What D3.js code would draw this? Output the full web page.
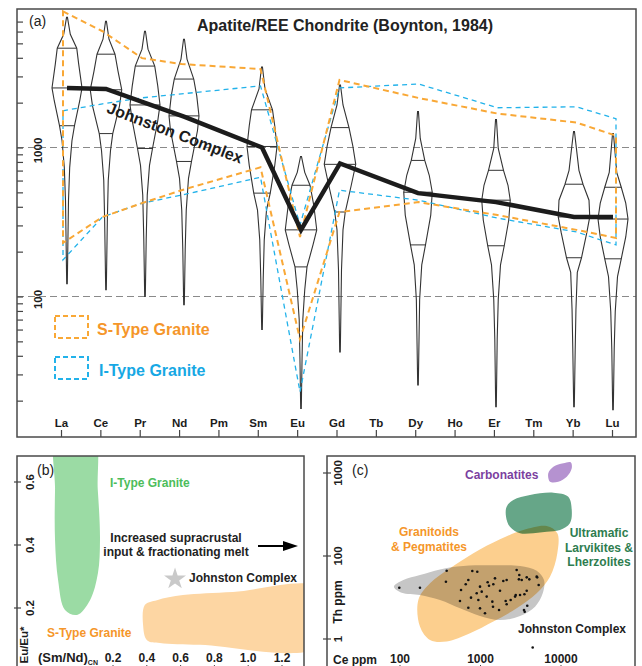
<!DOCTYPE html>
<html><head><meta charset="utf-8">
<script src="https://cdn.jsdelivr.net/npm/d3@7"></script>
<style>body{margin:0;background:#fff}svg{display:block}text{font-family:"Liberation Sans",Arial,sans-serif}</style>
</head><body>
<script>
// ---------------- DATA ----------------
// Panel (a): Apatite REE chondrite-normalised
const elements=["La","Ce","Pr","Nd","Pm","Sm","Eu","Gd","Tb","Dy","Ho","Er","Tm","Yb","Lu"];
const dataElements=["La","Ce","Pr","Nd","Sm","Eu","Gd","Dy","Er","Yb","Lu"];
const johnstonMedian=[2510,2470,1995,1610,1000,280,782,494,430,342,342];
const sTypeMax=[8190,6030,3980,3630,3360,251,2840,2150,1690,1470,1200];
const sTypeMin=[229,342,423,517,736,51.6,369,430,352,280,247];
const iTypeMax=[1765,1964,2154,2290,2590,302,2510,2670,1848,1875,1560];
const iTypeMin=[176,342,423,479,631,22.9,517,443,336,271,222];
// violin outlines: [value, relative density] from max to min
const violinLa=[[7470,.03],[5750,.22],[4640,.65],[3630,.78],[2510,1.0],[2060,.85],[1400,.5],[1110,.33],[736,.18],[443,.1],[122,.02]];
const violinCe=[[7030,.03],[5330,.2],[4230,.6],[3260,.8],[2440,1.05],[1905,.9],[1240,.45],[955,.3],[603,.15],[326,.09],[111,.02]];
const violinPr=[[6030,.03],[4570,.2],[3520,.65],[2590,.85],[1930,1.0],[1510,.85],[985,.5],[759,.3],[479,.15],[240,.08],[100,.02]];
const violinNd=[[5330,.03],[3920,.2],[2880,.65],[2220,.85],[1630,1.0],[1300,.9],[806,.5],[621,.3],[380,.15],[206,.08],[88,.02]];
const violinSm=[[3470,.03],[2470,.2],[1790,.7],[1400,.85],[1016,1.0],[759,.85],[494,.55],[380,.3],[240,.15],[130,.08],[60,.02]];
const violinEu=[[871,.03],[681,.25],[558,.6],[411,.85],[280,1.05],[222,.8],[158,.4],[111,.25],[70,.12],[38,.07],[17.7,.02]];
const violinGd=[[2630,.03],[1930,.2],[1360,.6],[1031,.85],[771,1.05],[558,.75],[369,.35],[280,.2],[151,.1],[42.4,.02]];
const violinDy=[[1740,.03],[1150,.15],[819,.45],[651,.75],[501,.95],[352,.85],[222,.5],[163,.25],[95.5,.11],[25.5,.02]];
const violinEr=[[1540,.03],[985,.15],[703,.5],[558,.8],[443,.95],[326,.85],[219,.55],[163,.3],[95.5,.15],[51.7,.08],[18.2,.02]];
const violinYb=[[1280,.03],[703,.33],[567,.6],[443,1.0],[342,1.05],[267,.85],[182,.5],[145,.22],[81.9,.13],[44.3,.08],[18.2,.02]];
const violinLu=[[1240,.03],[681,.25],[541,.55],[423,.85],[331,1.0],[251,.85],[179,.55],[136,.3],[79.4,.15],[44.3,.08],[17.4,.02]];
const violinProfiles=[violinLa,violinCe,violinPr,violinNd,violinSm,violinEu,violinGd,violinDy,violinEr,violinYb,violinLu];
const violinQ3=[4640,4230,3520,2880,1790,558,1360,819,703,567,541];
const violinMedian=[2510,2440,1930,1630,1016,280,771,501,443,342,331];
const violinQ1=[1400,1240,985,806,494,158,369,222,219,182,179];
const yTicksA=[20,30,40,50,60,70,80,90,100,200,300,400,500,600,700,800,900,1000,2000,3000,4000,5000,6000,7000];
const yLabelsA=[100,1000];
const legendA=[{name:"S-Type Granite",key:"s"},{name:"I-Type Granite",key:"i"}];

// Panel (b): Eu/Eu* vs (Sm/Nd)CN
const xTicksB=[0.2,0.4,0.6,0.8,1.0,1.2];
const yTicksB=[0.2,0.4,0.6];
const iTypeFieldB=[[-0.13,0.76],[0.08,0.76],[0.11,0.575],[0.123,0.416],[0.111,0.311],[0.064,0.225],[-0.013,0.178],[-0.084,0.194],[-0.125,0.289],[-0.143,0.416],[-0.143,0.575]];
const sTypeFieldB=[[0.389,0.210],[0.460,0.225],[0.614,0.241],[0.910,0.251],[1.425,0.263],[1.425,0.079],[0.715,0.083],[0.478,0.089],[0.401,0.098],[0.378,0.146]];
const johnstonB=[0.567,0.292];

// Panel (c): Th ppm vs Ce ppm
const xTicksC=[100,1000,10000];
const yTicksC=[10,100,1000];
const yTickLabelsC=["1","100","1000"];
const johnstonFieldC=[[84,42.7],[110,51.4],[177,59],[314,69],[612,75.8],[1443,77.3],[3100,75.8],[4990,66.5],[6150,51.4],[5930,35.5],[4760,24.5],[3100,18.9],[1746,16.9],[986,18.9],[556,23.4],[314,29.5],[177,33.9],[105,36.1]];
const granitoidFieldC=[[169,29.5],[236,46.9],[418,71.1],[815,108],[1746,159],[3400,206],[6640,230],[9000,188],[9000,108],[7300,56.3],[4990,35.5],[2812,23.4],[1443,16.2],[741,11.7],[380,9.3],[236,9.7],[177,14.1]];
const ultramaficFieldC=[[2113,393],[2560,473],[4120,543],[8040,580],[12300,519],[13600,358],[12900,248],[9720,206],[6640,196],[4530,188],[3100,188],[2320,225],[2075,298]];
const carbonatiteFieldC=[[6950,991],[8040,1190],[10700,1310],[13200,1345],[13600,1140],[11800,902],[9250,785],[7300,785]];
const ceJohnston=[98,177,380,372,655,706,791,912,573,986,1035,1228,1276,1443,1514,1920,2113,2812,3034,3000,3250,3750,4040,4990,5060,5280,1746,3750,3510,3100,2690,2370,2055,2113,1403,1430,1700,762,940,1194,556,706,986,1137,3470,3540,3810,2740,897,4450];
const thJohnston=[41.5,41.5,66.5,49,45.6,51.4,65.9,64.7,38.9,42.7,37.2,48.2,43.9,45.6,53.8,50,51.4,67.8,59,52.3,51.4,55.3,52.3,56.4,55.3,44.8,38.2,38.2,34.6,33.9,32.4,29.5,28.7,26.2,28.2,24.5,22.4,31.5,29.5,32.4,28.7,23.8,23.4,20.4,22.4,21.3,25.2,33.9,35.6,7.9];

// ---------------- DRAW ----------------
const W=642,H=666;
const svg=d3.select("body").append("svg").attr("width",W).attr("height",H);
const defs=svg.append("defs");
const FRAME="#4a4a4a", INK="#1c1c1c";
const ORANGE="#F9A836", ORANGE_T="#F5962A", BLUE="#22B2EA", BLUE_T="#17A8E4";

// ===== Panel a =====
const A={l:17,t:9,r:636,b:437};
defs.append("clipPath").attr("id","clipA").append("rect").attr("x",A.l).attr("y",A.t).attr("width",A.r-A.l).attr("height",A.b-A.t);
const yA=d3.scaleLog().domain([10,10000]).range([445.5,-1.5]);
const xTick=d3.scalePoint().domain(elements).range([61,612]);
const xViolin=d3.scalePoint().domain(elements).range([67,613]);
const xEnv=d3.scalePoint().domain(elements).range([63,616]);
const wA=d3.scaleLinear().domain([0,1]).range([0,15]);

const gA=svg.append("g");
const gAc=gA.append("g").attr("clip-path","url(#clipA)");
// grid lines
gAc.selectAll("line.grid").data(yLabelsA).join("line")
  .attr("x1",A.l).attr("x2",A.r).attr("y1",d=>yA(d)).attr("y2",d=>yA(d))
  .attr("stroke","#8a8a8a").attr("stroke-width",1.2).attr("stroke-dasharray","7,4");
// violins
const line=d3.line();
violinProfiles.forEach((prof,i)=>{
  const cx=xViolin(dataElements[i]);
  const right=prof.map(p=>[cx+wA(p[1]),yA(p[0])]);
  const left=prof.slice().reverse().map(p=>[cx-wA(p[1]),yA(p[0])]);
  gAc.append("path").attr("d",line(right.concat(left))+"Z")
    .attr("fill","none").attr("stroke","#333").attr("stroke-width",1.1);
  const dens=d3.scaleLinear().domain(prof.map(p=>Math.log10(p[0]))).range(prof.map(p=>p[1]));
  [violinQ3[i],violinMedian[i],violinQ1[i]].forEach(q=>{
    const hw=wA(dens(Math.log10(q)));
    gAc.append("line").attr("x1",cx-hw).attr("x2",cx+hw).attr("y1",yA(q)).attr("y2",yA(q))
      .attr("stroke","#333").attr("stroke-width",1);
  });
});
// envelopes
function envelope(maxArr,minArr){
  const up=dataElements.map((e,i)=>[xEnv(e),yA(maxArr[i])]);
  const lo=dataElements.map((e,i)=>[xEnv(e),yA(minArr[i])]).reverse();
  return line(up.concat(lo))+"Z";
}
gAc.append("path").attr("d",envelope(iTypeMax,iTypeMin)).attr("fill","none")
  .attr("stroke",BLUE).attr("stroke-width",1.3).attr("stroke-dasharray","5,4");
gAc.append("path").attr("d",envelope(sTypeMax,sTypeMin)).attr("fill","none")
  .attr("stroke",ORANGE).attr("stroke-width",2).attr("stroke-dasharray","6,4");
// Johnston median line
gAc.append("path").attr("d",d3.line()(dataElements.map((e,i)=>[xViolin(e),yA(johnstonMedian[i])])))
  .attr("fill","none").attr("stroke",INK).attr("stroke-width",4.5).attr("stroke-linejoin","miter");
// axes
gA.append("g").attr("transform",`translate(${A.l},0)`)
  .call(d3.axisRight(yA).tickValues(yTicksA).tickSize(6).tickFormat(""))
  .call(g=>{g.select(".domain").remove();g.selectAll("line").attr("stroke","#444").attr("stroke-width",1.2);});
gA.selectAll("text.ylab").data(yLabelsA).join("text")
  .attr("transform",d=>`translate(42,${yA(d)+3}) rotate(-90)`).attr("text-anchor","middle")
  .attr("font-size",11.5).attr("font-weight","bold").attr("fill",INK).text(d=>d3.format("d")(d));
const xAx=gA.append("g").attr("transform",`translate(0,${A.b})`)
  .call(d3.axisTop(xTick).tickSize(7).tickPadding(3));
xAx.select(".domain").remove();
xAx.selectAll("line").attr("stroke","#444").attr("stroke-width",1.2);
xAx.selectAll("text").attr("font-size",11.5).attr("font-weight","bold").attr("fill",INK)
  .attr("font-family","Liberation Sans, Arial, sans-serif");
gA.append("rect").attr("x",A.l).attr("y",A.t).attr("width",A.r-A.l).attr("height",A.b-A.t)
  .attr("fill","none").attr("stroke",FRAME).attr("stroke-width",1.5);
// texts
gA.append("text").attr("x",345).attr("y",31).attr("text-anchor","middle").attr("font-size",16)
  .attr("font-weight","bold").attr("fill","#222").text("Apatite/REE Chondrite (Boynton, 1984)");
gA.append("text").attr("x",29).attr("y",26).attr("font-size",14).attr("fill","#222").text("(a)");
gA.append("text").attr("transform","translate(173,138) rotate(21)").attr("text-anchor","middle")
  .attr("font-size",16).attr("font-weight","bold").attr("fill",INK).text("Johnston Complex");
// legend
legendA.forEach((d,i)=>{
  const y0=316+i*41;
  const col=d.key==="s"?ORANGE:BLUE, tcol=d.key==="s"?ORANGE_T:BLUE_T;
  gA.append("rect").attr("x",55).attr("y",y0).attr("width",33).attr("height",22)
    .attr("fill","none").attr("stroke",col).attr("stroke-width",2).attr("stroke-dasharray","5,3");
  gA.append("text").attr("x",d.key==="s"?97:99).attr("y",y0+19).attr("font-size",16)
    .attr("font-weight","bold").attr("fill",tcol).text(d.name);
});

// ===== Panel b =====
const B={l:17,t:456,r:304,b:700};
defs.append("clipPath").attr("id","clipB").append("rect").attr("x",B.l).attr("y",B.t).attr("width",B.r-B.l).attr("height",B.b-B.t);
const xB=d3.scaleLinear().domain([0.2,1.2]).range([113,282]);
const yB=d3.scaleLinear().domain([0.2,0.6]).range([608,482]);
const gB=svg.append("g");
const gBc=gB.append("g").attr("clip-path","url(#clipB)");
const blob=d3.line().curve(d3.curveCatmullRomClosed.alpha(0.5));
gBc.append("path").attr("d",blob(iTypeFieldB.map(p=>[xB(p[0]),yB(p[1])]))).attr("fill","#9BDBA4");
gBc.append("path").attr("d",blob(sTypeFieldB.map(p=>[xB(p[0]),yB(p[1])]))).attr("fill","#FDD6A3");
gBc.append("path").attr("d",d3.symbol(d3.symbolStar,150)())
  .attr("transform",`translate(${xB(johnstonB[0])},${yB(johnstonB[1])})`).attr("fill","#C9C9C9");
gB.append("rect").attr("x",B.l).attr("y",B.t).attr("width",B.r-B.l).attr("height",B.b-B.t)
  .attr("fill","none").attr("stroke",FRAME).attr("stroke-width",1.5);
gB.selectAll("line.yt").data(yTicksB).join("line").attr("x1",14).attr("x2",21)
  .attr("y1",d=>yB(d)).attr("y2",d=>yB(d)).attr("stroke","#444").attr("stroke-width",1.2);
gB.selectAll("text.yt").data(yTicksB).join("text")
  .attr("transform",d=>`translate(34,${yB(d)}) rotate(-90)`).attr("text-anchor","middle")
  .attr("font-size",11.5).attr("font-weight","bold").attr("fill",INK).text(d=>d3.format(".1f")(d));
gB.selectAll("text.xt").data(xTicksB).join("text").attr("x",d=>xB(d)).attr("y",662)
  .attr("text-anchor","middle").attr("font-size",12).attr("font-weight","bold").attr("fill",INK)
  .text(d=>d3.format(".1f")(d));
gB.selectAll("line.xt").data(xTicksB).join("line").attr("x1",d=>xB(d)).attr("x2",d=>xB(d))
  .attr("y1",665).attr("y2",672).attr("stroke","#444");
gB.append("text").attr("transform","translate(28,645) rotate(-90)").attr("text-anchor","middle")
  .attr("font-size",11.5).attr("font-weight","bold").attr("fill",INK).text("Eu/Eu*");
const smnd=gB.append("text").attr("x",38).attr("y",662).attr("font-size",13).attr("font-weight","bold").attr("fill",INK);
smnd.append("tspan").text("(Sm/Nd)");
smnd.append("tspan").attr("font-size",7).attr("dy",3).text("CN");
gB.append("text").attr("x",37).attr("y",475).attr("font-size",14).attr("fill","#222").text("(b)");
gB.append("text").attr("x",110).attr("y",487).attr("font-size",12).attr("font-weight","bold").attr("fill","#4DBD5B").text("I-Type Granite");
gB.append("text").attr("x",176).attr("y",542).attr("text-anchor","middle").attr("font-size",12).attr("font-weight","bold").attr("fill","#222").text("Increased supracrustal");
gB.append("text").attr("x",176).attr("y",556).attr("text-anchor","middle").attr("font-size",12).attr("font-weight","bold").attr("fill","#222").text("input & fractionating melt");
gB.append("line").attr("x1",258).attr("x2",285).attr("y1",546).attr("y2",546).attr("stroke","#000").attr("stroke-width",2);
gB.append("path").attr("d","M283,541L298,546L283,551Z").attr("fill","#000");
gB.append("text").attr("x",189).attr("y",582).attr("font-size",12).attr("font-weight","bold").attr("fill","#222").text("Johnston Complex");
gB.append("text").attr("x",47).attr("y",637).attr("font-size",12).attr("font-weight","bold").attr("fill",ORANGE_T).text("S-Type Granite");

// ===== Panel c =====
const C={l:327,t:456,r:635,b:700};
defs.append("clipPath").attr("id","clipC").append("rect").attr("x",C.l).attr("y",C.t).attr("width",C.r-C.l).attr("height",C.b-C.t);
const xC=d3.scaleLog().domain([100,10000]).range([400,561]);
const yC=d3.scaleLog().domain([10,1000]).range([639,473]);
const gC=svg.append("g");
const gCc=gC.append("g").attr("clip-path","url(#clipC)").style("isolation","isolate");
const toC=arr=>arr.map(p=>[xC(p[0]),yC(p[1])]);
gCc.append("path").attr("d",blob(toC(johnstonFieldC))).attr("fill","#C6C6C6");
gCc.append("path").attr("d",blob(toC(granitoidFieldC))).attr("fill","#FCCF8E").style("mix-blend-mode","multiply");
gCc.append("path").attr("d",blob(toC(ultramaficFieldC))).attr("fill","#66A688").style("mix-blend-mode","multiply");
gCc.append("path").attr("d",blob(toC(carbonatiteFieldC))).attr("fill","#B592D0");
gCc.selectAll("circle").data(ceJohnston).join("circle")
  .attr("cx",d=>xC(d)).attr("cy",(d,i)=>yC(thJohnston[i])).attr("r",1.3).attr("fill","#111");
gC.append("rect").attr("x",C.l).attr("y",C.t).attr("width",C.r-C.l).attr("height",C.b-C.t)
  .attr("fill","none").attr("stroke",FRAME).attr("stroke-width",1.5);
gC.selectAll("line.yt").data(yTicksC).join("line").attr("x1",323).attr("x2",331)
  .attr("y1",d=>yC(d)).attr("y2",d=>yC(d)).attr("stroke","#444").attr("stroke-width",1.2);
gC.selectAll("text.yt").data(yTicksC).join("text")
  .attr("transform",d=>`translate(342,${yC(d)}) rotate(-90)`).attr("text-anchor","middle")
  .attr("font-size",11.5).attr("font-weight","bold").attr("fill",INK).text((d,i)=>yTickLabelsC[i]);
gC.append("text").attr("transform","translate(342,602) rotate(-90)").attr("text-anchor","middle")
  .attr("font-size",12).attr("font-weight","bold").attr("fill",INK).text("Th ppm");
gC.selectAll("text.xt").data(xTicksC).join("text").attr("x",d=>xC(d)).attr("y",663)
  .attr("text-anchor","middle").attr("font-size",12).attr("font-weight","bold").attr("fill",INK).text(d=>d3.format("d")(d));
gC.selectAll("line.xt").data(xTicksC).join("line").attr("x1",d=>xC(d)).attr("x2",d=>xC(d))
  .attr("y1",665).attr("y2",672).attr("stroke","#444");
gC.append("text").attr("x",333).attr("y",664).attr("font-size",12).attr("font-weight","bold").attr("fill",INK).text("Ce ppm");
gC.append("text").attr("x",352).attr("y",475).attr("font-size",14).attr("fill","#222").text("(c)");
gC.append("text").attr("x",465).attr("y",479).attr("font-size",12).attr("font-weight","bold").attr("fill","#7B3FA0").text("Carbonatites");
[["Ultramafic",537],["Larvikites &",552],["Lherzolites",566]].forEach(t=>
  gC.append("text").attr("x",599).attr("y",t[1]).attr("text-anchor","middle").attr("font-size",12).attr("font-weight","bold").attr("fill","#2E7D4F").text(t[0]));
[["Granitoids",536],["& Pegmatites",551]].forEach(t=>
  gC.append("text").attr("x",429).attr("y",t[1]).attr("text-anchor","middle").attr("font-size",12).attr("font-weight","bold").attr("fill",ORANGE_T).text(t[0]));
gC.append("text").attr("x",518).attr("y",633).attr("font-size",12).attr("font-weight","bold").attr("fill","#222").text("Johnston Complex");
</script>
</body></html>
